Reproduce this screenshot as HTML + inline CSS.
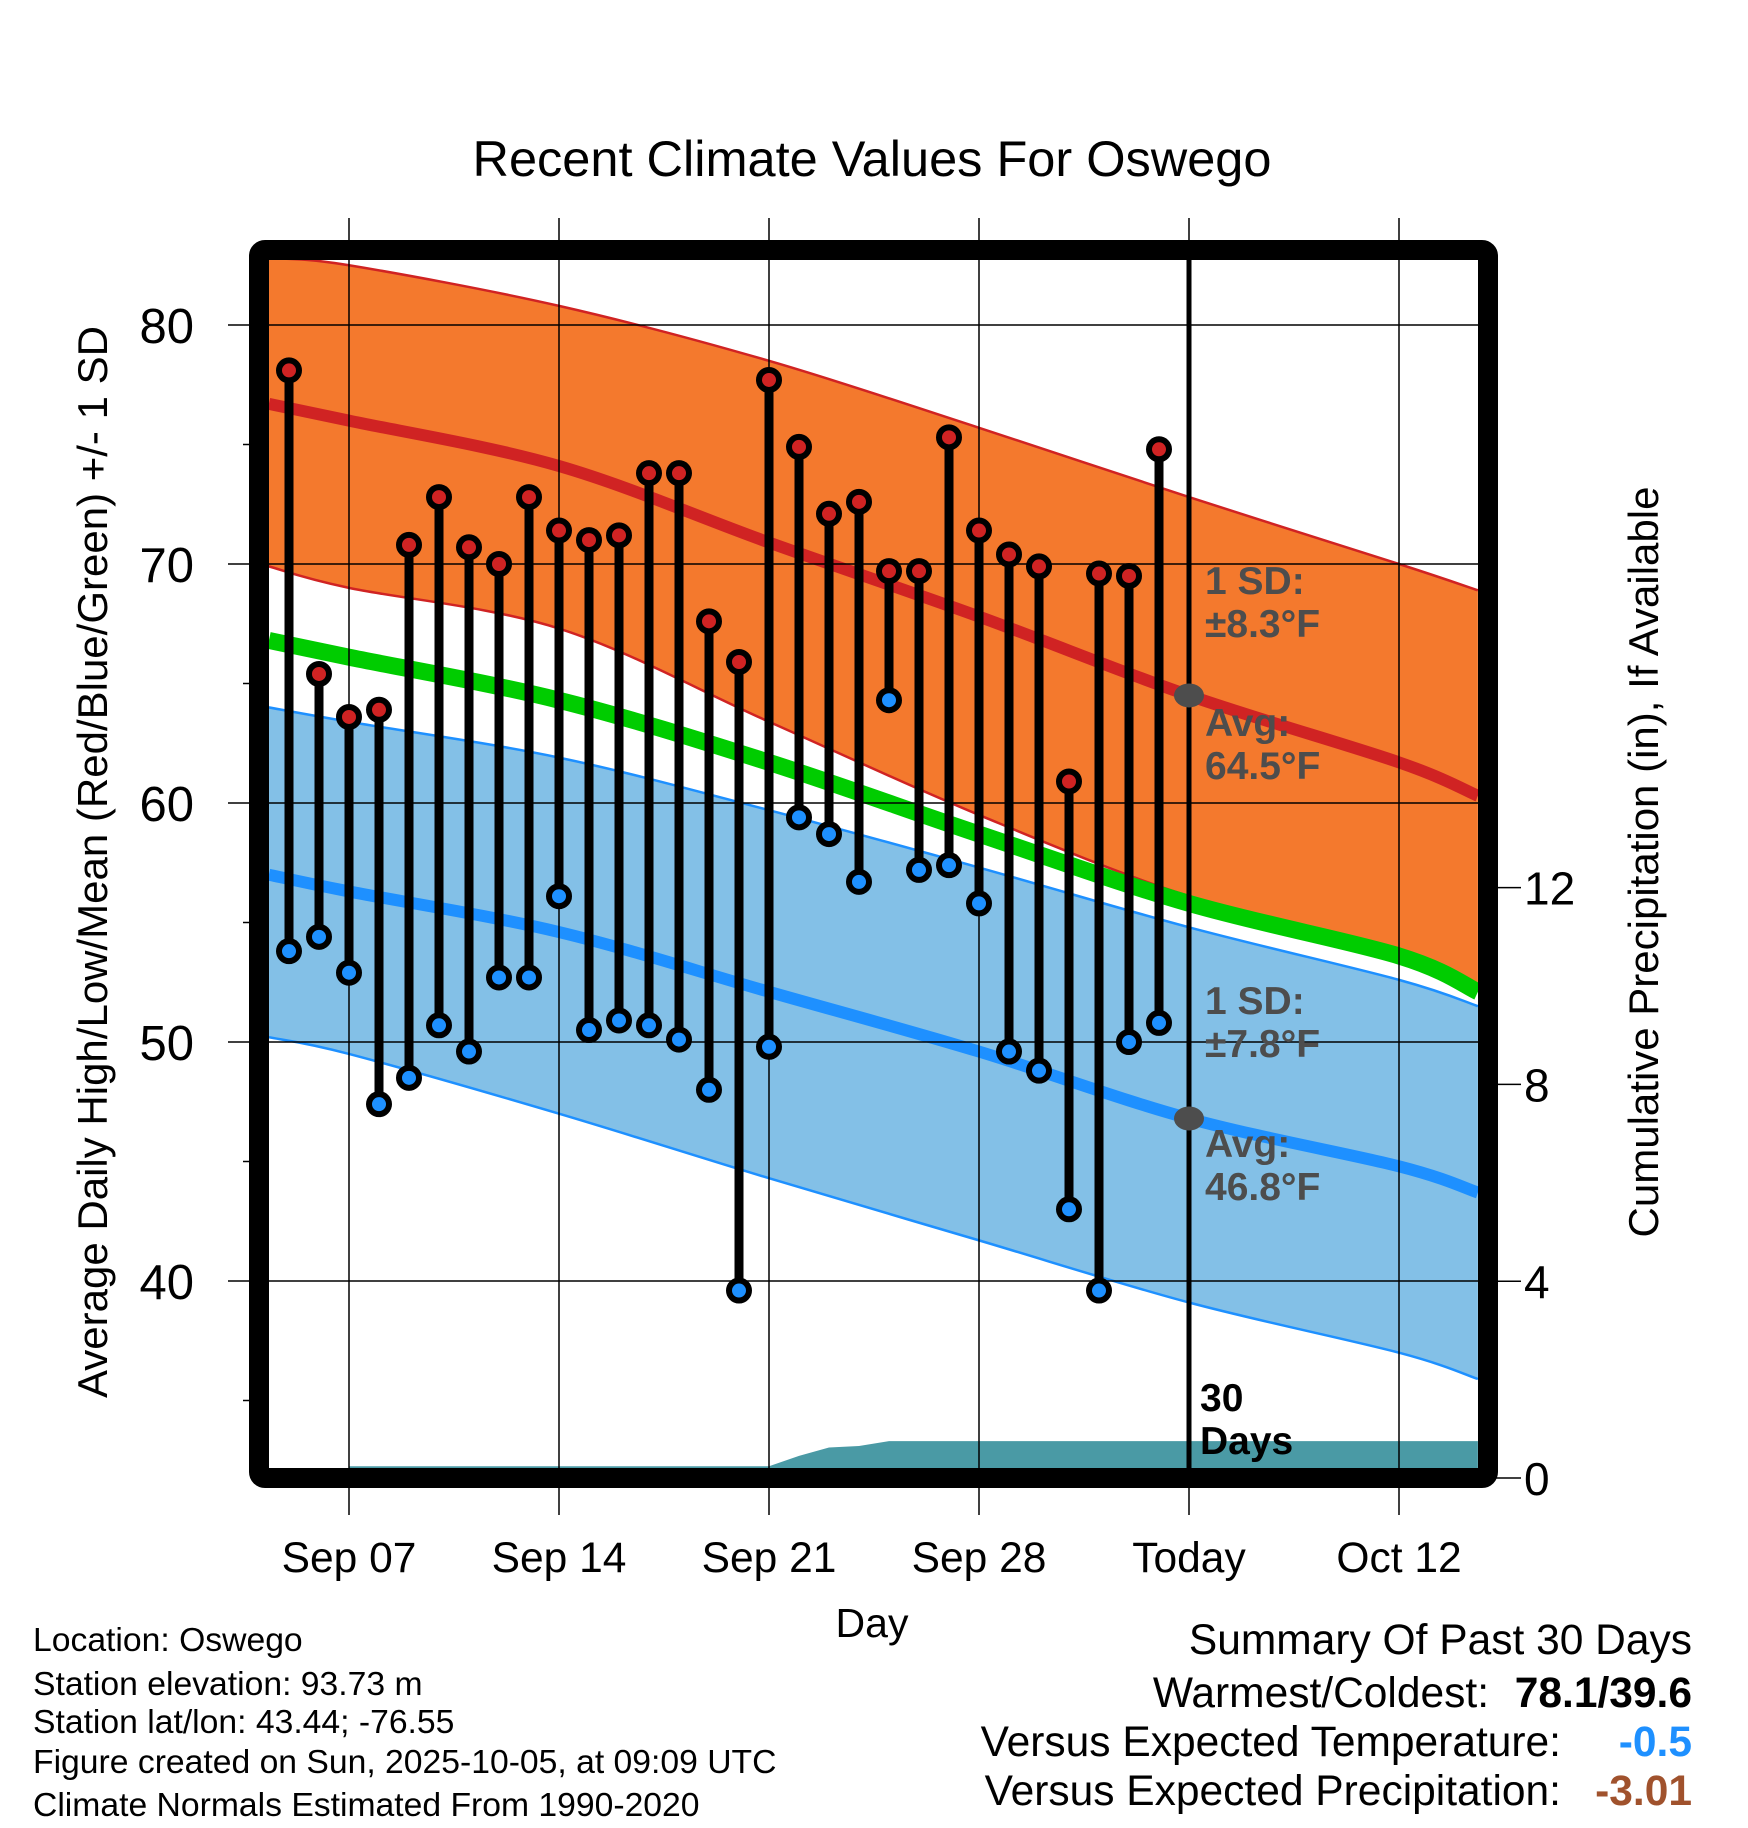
<!DOCTYPE html>
<html><head><meta charset="utf-8"><style>
html,body{margin:0;padding:0;background:#fff;}
svg{display:block;font-family:"Liberation Sans",sans-serif;}
</style></head><body>
<svg id="chart" width="1748" height="1828" viewBox="0 0 1748 1828" xmlns="http://www.w3.org/2000/svg">
<defs><clipPath id="plotclip"><rect x="269" y="260" width="1209" height="1208"/></clipPath></defs>
<g id="layer-bands" clip-path="url(#plotclip)"></g>
<g id="layer-grid"></g>
<g id="layer-marks" clip-path="url(#plotclip)"></g>
<g id="layer-text"></g>
<rect x="259" y="250" width="1229" height="1228" rx="6" fill="none" stroke="#000" stroke-width="20"/>
<text x="872" y="176" font-size="50.5" text-anchor="middle">Recent Climate Values For Oswego</text>
<text transform="translate(107,862) rotate(-90)" font-size="42" text-anchor="middle">Average Daily High/Low/Mean (Red/Blue/Green) +/- 1 SD</text>
<text transform="translate(1658,862) rotate(-90)" font-size="42" text-anchor="middle">Cumulative Precipitation (in), If Available</text>
<text x="872" y="1637" font-size="41" text-anchor="middle">Day</text>
<g font-size="33.7">
<text x="33" y="1651">Location: Oswego</text>
<text x="33" y="1695">Station elevation: 93.73 m</text>
<text x="33" y="1733">Station lat/lon: 43.44; -76.55</text>
<text x="33" y="1773">Figure created on Sun, 2025-10-05, at 09:09 UTC</text>
<text x="33" y="1816">Climate Normals Estimated From 1990-2020</text>
</g>
<g font-size="42.5">
<text x="1692" y="1654" text-anchor="end">Summary Of Past 30 Days</text>
<text x="1489" y="1707" text-anchor="end">Warmest/Coldest:</text>
<text x="1692" y="1707" text-anchor="end" font-weight="bold">78.1/39.6</text>
<text x="1561" y="1756" text-anchor="end">Versus Expected Temperature:</text>
<text x="1692" y="1756" text-anchor="end" font-weight="bold" fill="#1e90ff">-0.5</text>
<text x="1561" y="1805" text-anchor="end">Versus Expected Precipitation:</text>
<text x="1692" y="1805" text-anchor="end" font-weight="bold" fill="#a0522d">-3.01</text>
</g>
</svg>
<script>
// day numbers relative to Sep 07
const normalDays = [-2.67, 0, 7, 14, 21, 28, 35, 37.63];
const highUpper = [82.8, 82.5, 80.8, 78.5, 75.7, 72.8, 70.0, 68.9];
const highAvg = [76.7, 76.0, 74.1, 70.9, 67.8, 64.5, 61.7, 60.3];
const highLower = [69.9, 69.0, 67.3, 63.4, 59.5, 56.1, 53.9, 52.4];
const meanAvg = [66.8, 66.1, 64.3, 61.7, 58.7, 55.8, 53.6, 52.1];
const lowUpper = [64.0, 63.4, 61.9, 59.7, 57.3, 54.8, 52.6, 51.5];
const lowAvg = [57.0, 56.3, 54.6, 52.1, 49.6, 46.8, 44.8, 43.7];
const lowLower = [50.2, 49.5, 47.0, 44.3, 41.7, 39.1, 37.0, 35.9];
const obsDays = [-2,-1,0,1,2,3,4,5,6,7,8,9,10,11,12,13,14,15,16,17,18,19,20,21,22,23,24,25,26,27];
const obsHigh = [78.1,65.4,63.6,63.9,70.8,72.8,70.7,70.0,72.8,71.4,71.0,71.2,73.8,73.8,67.6,65.9,77.7,74.9,72.1,72.6,69.7,69.7,75.3,71.4,70.4,69.9,60.9,69.6,69.5,74.8];
const obsLow = [53.8,54.4,52.9,47.4,48.5,50.7,49.6,52.7,52.7,56.1,50.5,50.9,50.7,50.1,48.0,39.6,49.8,59.4,58.7,56.7,64.3,57.2,57.4,55.8,49.6,48.8,43.0,39.6,50.0,50.8];
const precipDays = [0,14,15,16,17,18,28,37.63];
const precipVals = [0.24,0.24,0.45,0.62,0.65,0.75,0.75,0.75];
const xTickDays = [0,7,14,21,28,35];
const xTickLabels = ["Sep 07","Sep 14","Sep 21","Sep 28","Today","Oct 12"];
const yTicks = [40,50,60,70,80];
const yMinor = [35,45,55,65,75];
const y2Ticks = [0,4,8,12];
const todayDay = 28;
const todayHigh = 64.5, todayLow = 46.8;

const NS="http://www.w3.org/2000/svg";
const X = d => 349 + d*30;
const Y = t => 325 + (80 - t)*23.9;
const Y2 = p => 1478 - p*49.2;
function mk(tag, attrs, parent){const e=document.createElementNS(NS,tag);for(const k in attrs)e.setAttribute(k,attrs[k]);parent.appendChild(e);return e;}
const bands=document.getElementById('layer-bands');
const grid=document.getElementById('layer-grid');
const marks=document.getElementById('layer-marks');
const txt=document.getElementById('layer-text');
// smooth curve (Catmull-Rom) through array points
function smooth(pts){
  let s='';
  for(let i=0;i<pts.length-1;i++){
    const p0=pts[Math.max(i-1,0)],p1=pts[i],p2=pts[i+1],p3=pts[Math.min(i+2,pts.length-1)];
    const c1=[p1[0]+(p2[0]-p0[0])/6,p1[1]+(p2[1]-p0[1])/6];
    const c2=[p2[0]-(p3[0]-p1[0])/6,p2[1]-(p3[1]-p1[1])/6];
    s+=' C'+c1[0]+','+c1[1]+' '+c2[0]+','+c2[1]+' '+p2[0]+','+p2[1];
  }
  return s;
}
function ptsOf(arr){return normalDays.map((d,i)=>[X(d),Y(arr[i])]);}
function linePath(arr){const p=ptsOf(arr);return 'M'+p[0][0]+','+p[0][1]+smooth(p);}
function bandPath(up,lo){
  const a=ptsOf(up), b=ptsOf(lo).reverse();
  return 'M'+a[0][0]+','+a[0][1]+smooth(a)+' L'+b[0][0]+','+b[0][1]+smooth(b)+' Z';
}

let e;
e=mk('path',{d:bandPath(highUpper,highLower),fill:'#f4792d'},bands);


e=mk('path',{d:bandPath(lowUpper,lowLower),fill:'#83c0e7'},bands);


[[highUpper,'#d02323',2.5,'high-upper-sd-line'],[highLower,'#d02323',2.5,'high-lower-sd-line'],[lowUpper,'#1e90ff',2.5,'low-upper-sd-line'],[lowLower,'#1e90ff',2.5,'low-lower-sd-line'],[meanAvg,'#00cc00',17,'mean-normal-line'],[highAvg,'#d02323',12,'high-normal-line'],[lowAvg,'#1e90ff',12,'low-normal-line']].forEach(a=>{
  e=mk('path',{d:linePath(a[0]),fill:'none',stroke:a[1],'stroke-width':a[2]},bands);
  
  
});
// precipitation
let pp=precipDays.map((d,i)=>X(d)+','+Y2(precipVals[i]));
pp.unshift(X(precipDays[0])+','+Y2(0));pp.push(X(precipDays[precipDays.length-1])+','+Y2(0));
e=mk('polygon',{points:pp.join(' '),fill:'#4a9aa5'},bands);



// grid
xTickDays.forEach((d,i)=>{
  e=mk('line',{x1:X(d),x2:X(d),y1:218,y2:1515,stroke:'#000','stroke-width':1.5},grid);
  
  
  e=mk('text',{x:X(d),y:1572,'font-size':42.5,'text-anchor':'middle'},txt);
  e.textContent=xTickLabels[i];
  
  
});
yTicks.forEach(t=>{
  e=mk('line',{x1:228,x2:1478,y1:Y(t),y2:Y(t),stroke:'#000','stroke-width':1.5},grid);
  
  
  e=mk('text',{x:194,y:Y(t)+18,'font-size':49,'text-anchor':'end'},txt);
  e.textContent=t;
  
  
});
yMinor.forEach(t=>{
  e=mk('line',{x1:243,x2:260,y1:Y(t),y2:Y(t),stroke:'#000','stroke-width':1.5},grid);
  
  
});
y2Ticks.forEach(p=>{
  e=mk('line',{x1:1488,x2:1521,y1:Y2(p),y2:Y2(p),stroke:'#000','stroke-width':1.5},grid);
  
  
  e=mk('text',{x:1524,y:Y2(p)+17,'font-size':46},txt);
  e.textContent=p;
  
  
});

// observations
obsDays.forEach((d,i)=>{
  e=mk('line',{x1:X(d),x2:X(d),y1:Y(obsHigh[i]),y2:Y(obsLow[i]),stroke:'#000','stroke-width':9},marks);
  
  
});
obsDays.forEach((d,i)=>{
  e=mk('circle',{cx:X(d),cy:Y(obsHigh[i]),r:10,fill:'#d02323',stroke:'#000','stroke-width':6},marks);
  
  
  e=mk('circle',{cx:X(d),cy:Y(obsLow[i]),r:10,fill:'#1e90ff',stroke:'#000','stroke-width':6},marks);
  
  
});
// today line
e=mk('line',{x1:X(todayDay),x2:X(todayDay),y1:260,y2:1468,stroke:'#000','stroke-width':5},marks);


e=mk('ellipse',{cx:X(todayDay),cy:Y(todayHigh),rx:15,ry:12,fill:'#4d4d4d'},marks);


e=mk('ellipse',{cx:X(todayDay),cy:Y(todayLow),rx:15,ry:12,fill:'#4d4d4d'},marks);



function label(lines,x,y,fill,name){
  lines.forEach((s,i)=>{
    const t=mk('text',{x:x,y:y+i*43,'font-size':39,'font-weight':'bold',fill:fill},txt);
    t.textContent=s;
    
    
  });
}
label(['1 SD:','±8.3°F'],1205,594,'#4d4d4d','high-sd-label');
label(['Avg:','64.5°F'],1205,736,'#4d4d4d','high-avg-label');
label(['1 SD:','±7.8°F'],1205,1014,'#4d4d4d','low-sd-label');
label(['Avg:','46.8°F'],1205,1157,'#4d4d4d','low-avg-label');
label(['30','Days'],1200,1411,'#000','days-label');
</script>
</body></html>
